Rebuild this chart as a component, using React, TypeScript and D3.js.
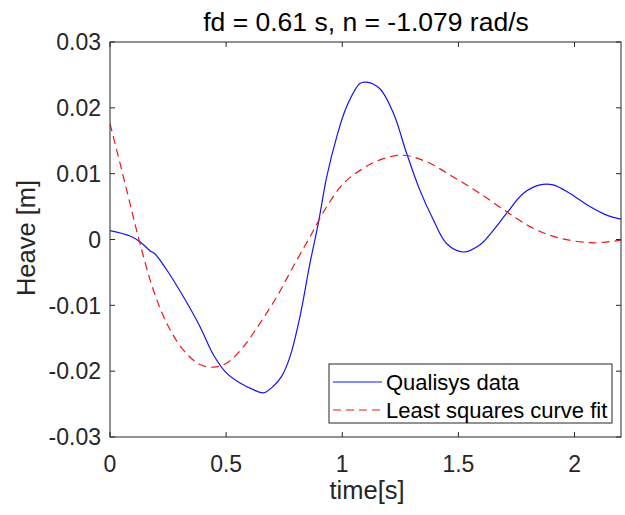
import React from "react";
import * as d3 from "d3";

const qualisysT = [0, 0.086, 0.129, 0.172, 0.194, 0.244, 0.316, 0.387, 0.445, 0.502, 0.56, 0.617, 0.66, 0.703, 0.739, 0.775, 0.818, 0.861, 0.897, 0.933, 0.976, 1.019, 1.076, 1.105, 1.162, 1.22, 1.277, 1.334, 1.392, 1.449, 1.521, 1.593, 1.65, 1.708, 1.779, 1.851, 1.908, 1.98, 2.066, 2.138, 2.2];
const qualisysV = [0.00134, 0.00053, -0.00033, -0.0017, -0.0022, -0.0046, -0.0087, -0.0132, -0.0175, -0.0203, -0.0218, -0.0228, -0.0233, -0.0223, -0.0208, -0.0178, -0.0117, -0.0036, 0.0025, 0.0095, 0.0156, 0.0202, 0.0237, 0.0239, 0.0229, 0.0192, 0.0131, 0.0075, 0.003, -0.0006, -0.0019, -0.0008, 0.0014, 0.004, 0.007, 0.0083, 0.0083, 0.007, 0.005, 0.0037, 0.0031];

const fitT = [0, 0.043, 0.086, 0.129, 0.187, 0.244, 0.316, 0.387, 0.445, 0.502, 0.574, 0.646, 0.718, 0.789, 0.861, 0.933, 1.005, 1.076, 1.162, 1.263, 1.363, 1.478, 1.593, 1.708, 1.822, 1.937, 2.081, 2.2];
const fitV = [0.0176, 0.0116, 0.0055, -0.0006, -0.0077, -0.0127, -0.0168, -0.019, -0.0194, -0.0188, -0.0163, -0.0127, -0.0087, -0.0041, 0.0004, 0.005, 0.0085, 0.0105, 0.0121, 0.0128, 0.0118, 0.0095, 0.007, 0.0042, 0.0017, 0.0002, -0.0005, -0.0001];

const xTicks = [0, 0.5, 1, 1.5, 2];
const yTicks = [-0.03, -0.02, -0.01, 0, 0.01, 0.02, 0.03];
const yTickLabels = ["-0.03", "-0.02", "-0.01", "0", "0.01", "0.02", "0.03"];
const seriesNames = ["Qualisys data", "Least squares curve fit"];
const titleText = "fd = 0.61 s, n = -1.079 rad/s";
const xLabel = "time[s]";
const yLabel = "Heave [m]";

const W = 625, H = 515;
const L = 110, R = 621, T = 42, B = 437;
const FONT = "'Liberation Sans', Arial, Helvetica, sans-serif";
const AX = "#262626";

export default function App() {
  const x = d3.scaleLinear().domain([0, 2.2]).range([L, R]);
  const y = d3.scaleLinear().domain([-0.03, 0.03]).range([B, T]);
  const line = d3.line<[number, number]>().x(d => x(d[0])).y(d => y(d[1])).curve(d3.curveCatmullRom.alpha(0.5));
  const blue = line(qualisysT.map((t, i) => [t, qualisysV[i]]) as [number, number][]) || "";
  const red = line(fitT.map((t, i) => [t, fitV[i]]) as [number, number][]) || "";
  const tl = 5;
  const lgX = 329, lgY = 364, lgW = 283, lgH = 59;
  return (
    <svg width={W} height={H} style={{ position: "absolute", left: 0, top: 0, background: "#fff" }} fontFamily={FONT}>
      <rect x={0} y={0} width={W} height={H} fill="#fff" />
      <defs>
        <clipPath id="plotclip"><rect x={L} y={T} width={R - L} height={B - T} /></clipPath>
      </defs>
      <g clipPath="url(#plotclip)">
        <path d={blue} fill="none" stroke="#1414f0" strokeWidth={1.2} />
        <path d={red} fill="none" stroke="#f01414" strokeWidth={1.2} strokeDasharray="8,5" />
      </g>
      <rect x={L} y={T} width={R - L} height={B - T} fill="none" stroke={AX} strokeWidth={1} />
      {xTicks.map(t => (
        <g key={"x" + t}>
          <line x1={x(t)} x2={x(t)} y1={B} y2={B - tl} stroke={AX} />
          <line x1={x(t)} x2={x(t)} y1={T} y2={T + tl} stroke={AX} />
          <text x={x(t)} y={472} textAnchor="middle" fontSize={23} fill={AX}>{String(t)}</text>
        </g>
      ))}
      {yTicks.map((v, i) => (
        <g key={"y" + v}>
          <line x1={L} x2={L + tl} y1={y(v)} y2={y(v)} stroke={AX} />
          <line x1={R} x2={R - tl} y1={y(v)} y2={y(v)} stroke={AX} />
          <text x={101} y={y(v)} dy="0.36em" textAnchor="end" fontSize={23} fill={AX}>{yTickLabels[i]}</text>
        </g>
      ))}
      <text x={366} y={31} textAnchor="middle" fontSize={26.5} fill="#000">{titleText}</text>
      <text x={367} y={499} textAnchor="middle" fontSize={25.5} fill={AX}>{xLabel}</text>
      <text transform={`translate(35,238) rotate(-90)`} textAnchor="middle" fontSize={25.5} fill={AX}>{yLabel}</text>
      <rect x={lgX} y={lgY} width={lgW} height={lgH} fill="#fff" stroke={AX} strokeWidth={1} />
      <line x1={333} x2={382} y1={382} y2={382} stroke="#1414f0" strokeWidth={1.2} />
      <line x1={333} x2={382} y1={410} y2={410} stroke="#f01414" strokeWidth={1.2} strokeDasharray="8,5" />
      <text x={386} y={382} dy="0.36em" fontSize={22} fill="#000">{seriesNames[0]}</text>
      <text x={386} y={410} dy="0.36em" fontSize={22} fill="#000">{seriesNames[1]}</text>
    </svg>
  );
}
